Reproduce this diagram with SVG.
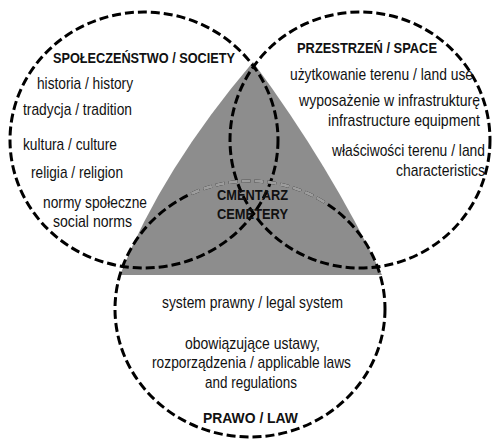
<svg xmlns="http://www.w3.org/2000/svg" width="494" height="439" viewBox="0 0 494 439">
<style>
.c{fill:none;stroke:#000;stroke-width:3;stroke-dasharray:9 4}
.t{font-family:"Liberation Sans Narrow","Liberation Sans",Arial,sans-serif;font-size:17px;fill:#111}
.b{font-family:"Liberation Sans Narrow","Liberation Sans",Arial,sans-serif;font-size:15.5px;font-weight:bold;fill:#111}
</style>
<defs>
<clipPath id="clipBox"><rect x="190" y="175" width="137" height="40"/></clipPath>
</defs>
<rect width="494" height="439" fill="#fff"/>
<g id="cemetery-area">
<path d="M120,275 Q162,169 253,62 Q330,166 382,275 Z" fill="#8d8d8d"/>
</g>
<g id="society">
<ellipse class="c" cx="144" cy="140" rx="134" ry="128"/>
<text class="b" x="53" y="63" textLength="182" lengthAdjust="spacingAndGlyphs">SPOŁECZEŃSTWO / SOCIETY</text>
<text class="t" x="37" y="89" textLength="96" lengthAdjust="spacingAndGlyphs">historia / history</text>
<text class="t" x="23" y="115" textLength="109" lengthAdjust="spacingAndGlyphs">tradycja / tradition</text>
<text class="t" x="23" y="150" textLength="94" lengthAdjust="spacingAndGlyphs">kultura / culture</text>
<text class="t" x="31" y="178" textLength="92" lengthAdjust="spacingAndGlyphs">religia / religion</text>
<text class="t" x="43" y="208" textLength="104" lengthAdjust="spacingAndGlyphs">normy społeczne</text>
<text class="t" x="53" y="227" textLength="79" lengthAdjust="spacingAndGlyphs">social norms</text>
</g>
<g id="space">
<ellipse class="c" cx="360" cy="140" rx="130" ry="128"/>
<text class="b" x="297" y="53" textLength="140" lengthAdjust="spacingAndGlyphs">PRZESTRZEŃ / SPACE</text>
<text class="t" x="290" y="80" textLength="183" lengthAdjust="spacingAndGlyphs">użytkowanie terenu / land use</text>
<text class="t" x="299" y="106" textLength="181" lengthAdjust="spacingAndGlyphs">wyposażenie w infrastrukturę</text>
<text class="t" x="328" y="126" textLength="152" lengthAdjust="spacingAndGlyphs">infrastructure equipment</text>
<text class="t" x="332" y="156" textLength="153" lengthAdjust="spacingAndGlyphs">właściwości terenu / land</text>
<text class="t" x="396" y="176" textLength="89" lengthAdjust="spacingAndGlyphs">characteristics</text>
</g>
<g id="law">
<ellipse class="c" cx="250" cy="309" rx="135" ry="128"/>
<g clip-path="url(#clipBox)">
<ellipse class="c" cx="250" cy="309" rx="135" ry="128" style="stroke:#9c9c9c"/>
</g>
<text class="t" x="162" y="308" textLength="181" lengthAdjust="spacingAndGlyphs">system prawny / legal system</text>
<text class="t" x="185" y="349" textLength="135" lengthAdjust="spacingAndGlyphs">obowiązujące ustawy,</text>
<text class="t" x="152" y="368" textLength="199" lengthAdjust="spacingAndGlyphs">rozporządzenia / applicable laws</text>
<text class="t" x="205" y="388" textLength="92" lengthAdjust="spacingAndGlyphs">and regulations</text>
<text class="b" x="203" y="423" textLength="95" lengthAdjust="spacingAndGlyphs">PRAWO / LAW</text>
</g>
<g id="cemetery">
<text class="b" x="217" y="200" textLength="71" lengthAdjust="spacingAndGlyphs">CMENTARZ</text>
<text class="b" x="217" y="219" textLength="71" lengthAdjust="spacingAndGlyphs">CEMETERY</text>
</g>
<g id="connectors"/>
</svg>
